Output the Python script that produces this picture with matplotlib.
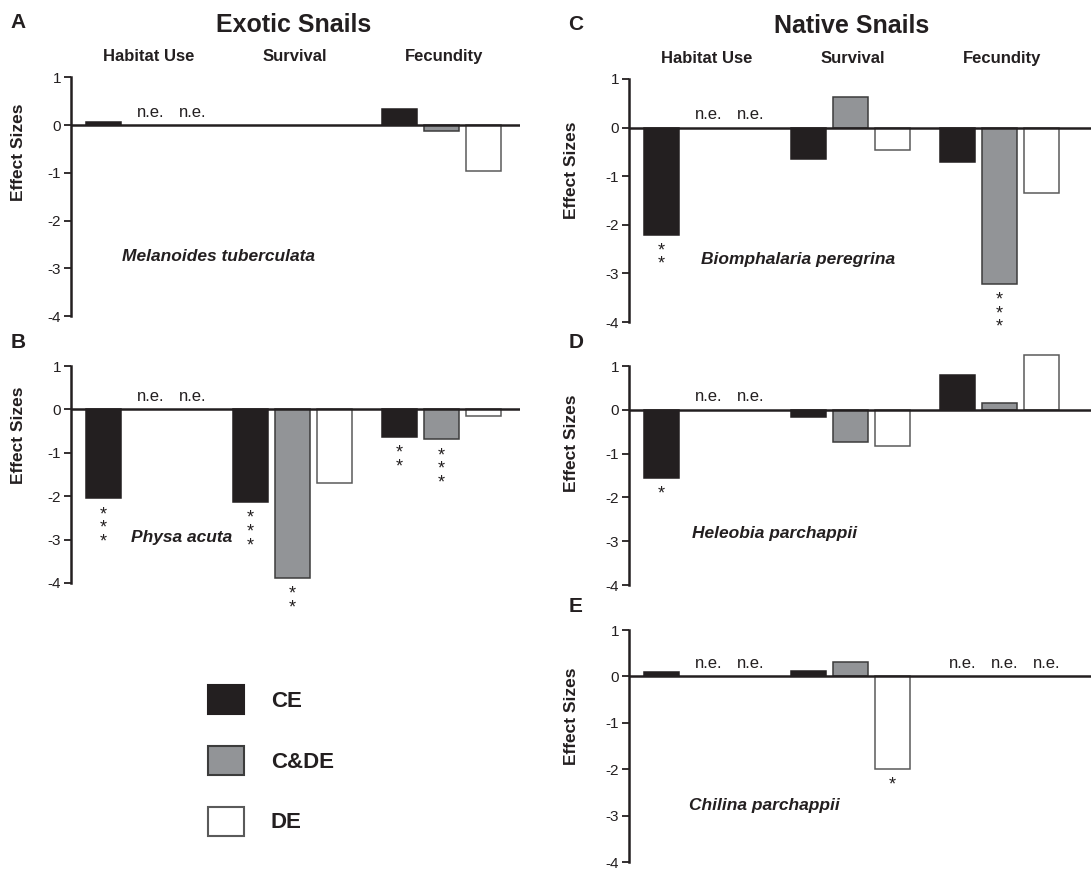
import matplotlib
matplotlib.use("Agg")
import matplotlib.pyplot as plt
from matplotlib.patches import Patch
import numpy as np

plt.rcParams['font.family'] = ['Liberation Sans', 'DejaVu Sans']
plt.rcParams['axes.unicode_minus'] = False

# ---- data ----
categories = ['Habitat Use', 'Survival', 'Fecundity']
treatments = ['CE', 'C&DE', 'DE']
NE = 'n.e.'   # not evaluated -> text instead of a bar
# order in each list: Habitat (CE, C&DE, DE), Survival (...), Fecundity (...)
melanoides = [0.07, NE, NE, None, None, None, 0.34, -0.13, -0.95]
physa = [-2.05, NE, NE, -2.14, -3.89, -1.70, -0.63, -0.69, -0.16]
biomphalaria = [-2.20, NE, NE, -0.64, 0.62, -0.47, -0.70, -3.21, -1.35]
heleobia = [-1.56, NE, NE, -0.17, -0.73, -0.83, 0.80, 0.15, 1.25]
chilina = [0.10, NE, NE, 0.12, 0.32, -2.00, NE, NE, NE]

stars_melanoides = [0, 0, 0, 0, 0, 0, 0, 0, 0]
stars_physa = [3, 0, 0, 3, 2, 0, 2, 3, 0]
stars_biomphalaria = [2, 0, 0, 0, 0, 0, 0, 3, 0]
stars_heleobia = [1, 0, 0, 0, 0, 0, 0, 0, 0]
stars_chilina = [0, 0, 0, 0, 0, 1, 0, 0, 0]

species = ['Melanoides tuberculata', 'Physa acuta', 'Biomphalaria peregrina',
           'Heleobia parchappii', 'Chilina parchappii']

# ---- styles ----
fills = ['#231f20', '#929497', 'white']
edges = ['#231f20', '#3c3c3c', '#5a5a5a']
dark = '#231f20'

W, H = 1091, 871
fig = plt.figure(figsize=(W / 100, H / 100), dpi=100)

group_start = [0, 3.5, 7.05]
xpos = [g + k for g in group_start for k in range(3)]
slot_px = 42.0


def add_panel(rect_px, letter, values, stars, name, name_xy, ylab_frac, headers=None, title=None):
    l, r, t, b = rect_px
    ax = fig.add_axes([l / W, 1 - b / H, (r - l) / W, (b - t) / H])
    ax.set_xlim(-32.5 / slot_px, -32.5 / slot_px + (r - l) / slot_px)
    ax.set_ylim(-4, 1)
    for s in ['top', 'right', 'bottom']:
        ax.spines[s].set_visible(False)
    ax.spines['left'].set_linewidth(1.8)
    ax.spines['left'].set_color(dark)
    ax.set_xticks([])
    ax.set_yticks([1, 0, -1, -2, -3, -4])
    ax.set_yticklabels(['1', '0', '-1', '-2', '-3', '-4'])
    ax.tick_params(axis='y', direction='out', length=5, width=1.3, color=dark,
                   labelsize=11, labelcolor=dark, pad=2)
    ax.patch.set_visible(False)

    for i, v in enumerate(values):
        k = i % 3
        if v is None:
            continue
        if v == NE:
            ax.annotate(NE, xy=(xpos[i], 0), xytext=(4, 9.5), textcoords='offset points',
                        ha='center', va='center', fontsize=12, color=dark)
            continue
        ax.bar(xpos[i], v, width=35 / slot_px, color=fills[k], edgecolor=edges[k],
               linewidth=1.1, zorder=2, clip_on=False)
        if stars[i]:
            # stacked significance asterisks under the bar
            ax.annotate('\n'.join(['*'] * stars[i]), xy=(xpos[i], v), xytext=(0, -5.5),
                        textcoords='offset points', ha='center', va='top',
                        fontsize=13, color=dark, linespacing=0.75)

    ax.axhline(0, color=dark, linewidth=1.8, zorder=3)
    ax.set_ylabel('Effect Sizes', fontsize=12.5, fontweight='bold', color=dark)
    ax.yaxis.set_label_coords(-(45 if l < 300 else 50) / (r - l), ylab_frac)

    ax.text(name_xy[0], name_xy[1], name, fontsize=12.5, fontweight='bold',
            fontstyle='italic', ha='center', va='center', color=dark)

    if headers:
        for g, hname in zip(group_start, headers):
            ax.annotate(hname, xy=(g + 1, 1), xycoords=('data', 'axes fraction'),
                        xytext=(2, 15), textcoords='offset points', ha='center',
                        va='center', fontsize=12, fontweight='bold', color=dark)
    if title:
        ax.annotate(title, xy=(group_start[1] + 1, 1), xycoords=('data', 'axes fraction'),
                    xytext=(1, 38), textcoords='offset points', ha='center',
                    va='center', fontsize=18, fontweight='bold', color=dark)

    fig.text((l - 53) / W, 1 - (t - (55 if headers else 23)) / H, letter, fontsize=15,
             fontweight='bold', ha='center', va='center', color=dark)
    return ax


add_panel((71, 520, 77.5, 316), 'A', melanoides, stars_melanoides, species[0],
          (2.75, -2.76), 0.686, headers=categories, title='Exotic Snails')
add_panel((71, 520, 366, 583), 'B', physa, stars_physa, species[1],
          (1.85, -2.95), 0.68)
add_panel((629, 1091, 79, 322), 'C', biomphalaria, stars_biomphalaria, species[2],
          (3.25, -2.72), 0.624, headers=categories, title='Native Snails')
add_panel((629, 1091, 366, 585), 'D', heleobia, stars_heleobia, species[3],
          (2.70, -2.83), 0.645)
add_panel((629, 1091, 630, 862), 'E', chilina, stars_chilina, species[4],
          (2.44, -2.79), 0.627)

handles = [Patch(facecolor=fills[k], edgecolor=edges[k], linewidth=1.5, label=treatments[k])
           for k in range(3)]
fig.legend(handles=handles, loc='upper left', bbox_to_anchor=(208 / W, 1 - 685 / H),
           frameon=False, borderpad=0, borderaxespad=0, handlelength=1.62,
           handleheight=1.63, handletextpad=1.2, labelspacing=1.43,
           prop={'size': 16, 'weight': 'bold'}, labelcolor=dark)

fig.savefig('out.png', dpi=100, facecolor='white')
